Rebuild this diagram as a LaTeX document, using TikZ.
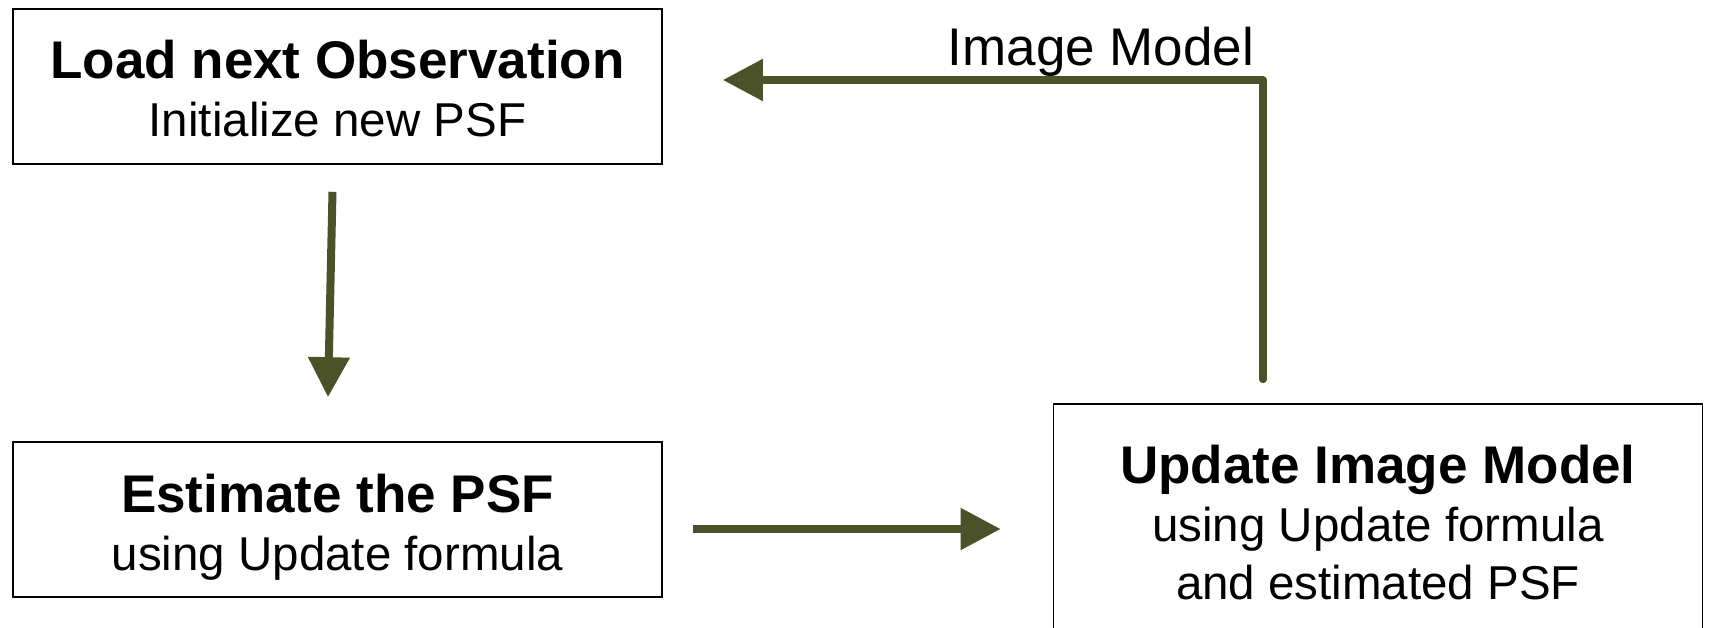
\documentclass[tikz,border=0pt]{standalone}
\usepackage{fontspec}
\setmainfont{Liberation Sans}
\usetikzlibrary{arrows.meta,calc}
\definecolor{flowolive}{RGB}{75,82,41}
\tikzset{
  box/.style={draw=black, line width=1.6pt, minimum width=649pt, minimum height=155pt,
    inner sep=0pt, align=center, font=\fontsize{47.5}{58}\selectfont},
  flow/.style={draw=flowolive, line width=8pt, -{Triangle[length=40pt,width=40pt]}}
}
% bold first line; optional strut height pushes the text block down
\newcommand{\headtext}[2][0pt]{{\fontsize{53}{58}\selectfont\bfseries\rule{0pt}{#1}#2}}
\begin{document}
\begin{tikzpicture}[x=1pt,y=-1pt]
\useasboundingbox (0,0) rectangle (1710,627);
\clip (0,0) rectangle (1710,627);

% process steps
\node[box] (load) at (337.5,86.5) {\headtext[43pt]{Load next Observation}\\Initialize new PSF};
\node[box] (est) at (337.5,519.5) {\headtext[54pt]{Estimate the PSF}\\using Update formula};
\node[box, minimum height=238pt] (update) at (1378,523) {\headtext{Update Image Model}\\using Update formula\\and estimated PSF};

% connectors
\draw[flow] ($(load.south)+(-5,27)$) -- ($(est.north)+(-9.5,-44)$);
\draw[flow] ($(est.east)+(30,9.5)$) -- ($(update.west)+(-52,6)$);
\draw[flow, line join=round, line cap=round] ($(update.north)+(-115,-24)$) |- ($(load.east)+(60,-6.5)$);

% feedback label
\node[font=\fontsize{53}{58}\selectfont, anchor=base, inner sep=0pt] (lbl) at (1101,65) {Image Model};
\end{tikzpicture}
\end{document}
